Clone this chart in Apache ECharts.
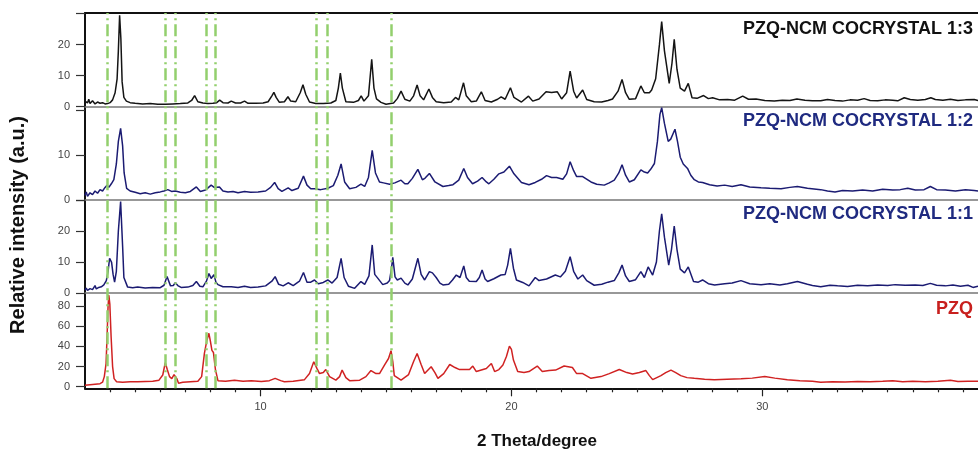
<!DOCTYPE html>
<html>
<head>
<meta charset="utf-8">
<script src="https://cdn.jsdelivr.net/npm/echarts@6/dist/echarts.min.js"></script>
<style>
  html, body { margin: 0; padding: 0; background: #fff; }
  #chart { width: 978px; height: 459px; }
</style>
</head>
<body>
<div id="chart"></div>
<script>
// XRD patterns, [2theta, intensity]
var xrd13 = [[3.0,1.8],[3.1,1.2],[3.15,2.4],[3.2,1.0],[3.3,1.9],[3.4,0.9],[3.5,1.5],[3.6,1.1],[3.7,1.3],[3.8,0.9],[3.9,1.0],[4.0,1.3],[4.1,2.2],[4.2,4.5],[4.28,9],[4.33,18],[4.38,29.5],[4.43,22],[4.48,8],[4.55,3],[4.65,1.8],[4.8,1.3],[5.0,1.1],[5.3,0.9],[5.6,1.0],[5.9,0.8],[6.2,0.8],[6.5,0.9],[6.8,1.0],[7.1,1.2],[7.25,2.0],[7.37,3.6],[7.5,1.6],[7.7,1.2],[7.9,1.0],[8.1,1.1],[8.25,1.3],[8.37,2.1],[8.5,1.3],[8.7,1.2],[8.83,1.8],[9.0,1.2],[9.2,1.2],[9.36,1.8],[9.5,1.1],[9.8,1.1],[10.1,1.2],[10.3,1.6],[10.45,3.5],[10.53,4.6],[10.62,3.0],[10.75,1.4],[10.95,1.6],[11.09,3.2],[11.2,1.8],[11.4,1.6],[11.58,4.5],[11.69,7.1],[11.8,4.0],[11.95,1.5],[12.2,1.0],[12.5,1.0],[12.8,1.2],[13.0,2.0],[13.1,6],[13.18,10.8],[13.26,6],[13.4,1.6],[13.7,1.4],[13.9,2.0],[14.01,3.5],[14.12,1.8],[14.3,3.5],[14.43,15.3],[14.52,6],[14.62,2.5],[14.8,1.4],[15.0,0.8],[15.3,1.2],[15.45,2.6],[15.6,5.0],[15.75,2.4],[15.95,1.8],[16.1,3.5],[16.24,7.0],[16.36,3.5],[16.5,2.2],[16.71,5.7],[16.85,3.0],[17.0,1.6],[17.3,1.3],[17.6,1.5],[17.77,3.0],[17.9,2.2],[18.09,7.7],[18.2,3.5],[18.4,1.6],[18.6,1.8],[18.8,4.8],[18.95,2.0],[19.2,1.5],[19.45,2.4],[19.59,3.2],[19.75,2.4],[19.96,6.1],[20.1,3.0],[20.4,1.5],[20.68,3.4],[20.85,1.8],[21.1,2.5],[21.38,4.8],[21.6,4.6],[21.83,4.8],[22.0,2.5],[22.2,4.5],[22.34,11.5],[22.48,5],[22.6,2.8],[22.84,5.4],[23.0,2.3],[23.3,1.6],[23.6,1.5],[23.85,2.0],[24.03,2.5],[24.25,5],[24.41,8.8],[24.55,4.5],[24.7,2.4],[24.95,2.6],[25.16,6.7],[25.3,4.5],[25.36,5],[25.5,4.5],[25.59,5.4],[25.75,9],[25.9,20],[25.99,27.4],[26.1,18],[26.29,7.5],[26.4,14],[26.49,21.7],[26.6,12],[26.73,6],[26.9,5],[27.05,7.5],[27.2,2.9],[27.4,2.7],[27.66,3.6],[27.85,2.6],[28.02,2.9],[28.3,2.2],[28.62,2.3],[28.9,2.1],[29.22,3.4],[29.45,2.4],[29.75,2.5],[30.1,2.0],[30.48,1.8],[30.8,2.1],[31.1,2.0],[31.38,2.5],[31.7,2.1],[32.0,1.9],[32.33,1.9],[32.6,2.3],[32.9,2.0],[33.2,1.8],[33.5,2.2],[33.8,2.1],[34.06,2.6],[34.3,2.0],[34.6,1.9],[34.9,2.2],[35.2,2.1],[35.4,1.9],[35.66,2.9],[35.9,2.3],[36.2,2.1],[36.5,2.3],[36.72,2.9],[36.9,2.3],[37.2,2.1],[37.5,2.4],[37.8,2.0],[38.1,2.2],[38.45,2.3],[38.6,2.0]];

var xrd12 = [[3.0,1.0],[3.05,1.8],[3.1,0.8],[3.2,1.6],[3.3,1.2],[3.4,2.0],[3.5,1.5],[3.6,2.3],[3.7,2.0],[3.8,2.8],[3.88,3.3],[3.95,2.8],[4.05,3.6],[4.15,4.5],[4.25,8],[4.33,13],[4.42,15.9],[4.5,12],[4.56,6],[4.66,2.6],[4.8,2.0],[5.0,1.7],[5.2,1.4],[5.4,1.6],[5.6,1.3],[5.8,1.6],[6.0,1.8],[6.15,2.0],[6.3,2.3],[6.45,1.9],[6.6,2.0],[6.8,1.7],[7.0,1.6],[7.2,1.9],[7.44,2.9],[7.6,1.9],[7.8,2.2],[8.03,3.3],[8.15,2.8],[8.36,2.9],[8.5,2.0],[8.7,1.8],[8.9,1.9],[9.1,1.6],[9.36,1.9],[9.6,1.7],[9.9,1.8],[10.2,2.0],[10.4,2.8],[10.56,3.9],[10.7,2.5],[10.85,1.9],[11.1,2.7],[11.25,2.1],[11.5,2.6],[11.71,5.3],[11.85,3.3],[12.0,2.5],[12.15,2.5],[12.4,2.3],[12.68,2.6],[12.9,3.2],[13.08,5.5],[13.21,8.0],[13.35,4.0],[13.55,2.5],[13.8,2.8],[14.0,3.5],[14.15,3.0],[14.3,5],[14.45,11],[14.58,6],[14.74,4.0],[14.9,3.8],[15.14,3.5],[15.35,3.8],[15.6,4.4],[15.75,3.6],[15.87,3.6],[16.05,4.8],[16.27,6.8],[16.45,4.5],[16.55,4.8],[16.73,5.9],[16.95,4.0],[17.27,3.0],[17.5,3.2],[17.67,3.4],[17.9,4.4],[18.1,7.0],[18.25,5.0],[18.45,3.6],[18.65,4.2],[18.83,5.0],[19.0,4.0],[19.1,3.6],[19.3,4.6],[19.5,5.8],[19.7,6.2],[19.92,7.5],[20.1,5.8],[20.4,3.9],[20.7,3.4],[20.95,3.9],[21.2,4.6],[21.4,5.4],[21.6,5.0],[21.8,5.0],[22.05,4.6],[22.2,5.8],[22.34,8.5],[22.48,6.5],[22.6,5.2],[22.84,5.2],[23.17,4.0],[23.4,3.5],[23.7,3.3],[23.9,3.8],[24.1,4.4],[24.28,6],[24.41,7.8],[24.55,5.5],[24.7,4.0],[24.9,4.5],[25.16,6.7],[25.3,6.2],[25.43,6.0],[25.55,6.8],[25.7,8.1],[25.82,13],[25.92,19],[25.99,20.5],[26.1,17],[26.25,13],[26.35,13.5],[26.52,15.7],[26.62,13],[26.73,9.5],[26.85,8],[27.02,7.0],[27.15,5.5],[27.29,4.5],[27.45,4.0],[27.62,3.9],[27.9,3.4],[28.2,3.1],[28.5,3.3],[28.8,3.0],[29.15,3.4],[29.5,2.9],[29.95,2.7],[30.3,2.6],[30.75,2.5],[31.1,2.8],[31.4,3.0],[31.8,2.6],[32.33,2.3],[32.6,2.0],[32.9,1.8],[33.2,2.1],[33.6,2.0],[34.0,2.2],[34.4,2.0],[34.8,2.4],[35.2,2.2],[35.5,2.3],[35.8,2.6],[36.1,2.2],[36.45,2.3],[36.7,3.0],[36.95,2.3],[37.3,2.2],[37.7,2.0],[38.1,2.3],[38.45,2.1],[38.6,2.0]];

var xrd11 = [[3.0,0.9],[3.05,1.6],[3.1,0.8],[3.2,1.4],[3.3,1.1],[3.4,2.4],[3.45,1.3],[3.55,1.8],[3.65,2.0],[3.75,2.6],[3.85,4.0],[3.92,7],[3.98,11.2],[4.06,9.9],[4.12,6],[4.18,3.5],[4.25,7],[4.33,20],[4.42,29.5],[4.5,15],[4.55,5.0],[4.7,1.9],[4.9,1.7],[5.1,1.9],[5.4,1.6],[5.7,1.8],[6.0,1.7],[6.15,2.5],[6.27,5.3],[6.41,2.3],[6.52,2.4],[6.6,3.3],[6.7,2.4],[6.83,1.8],[7.1,1.9],[7.3,2.4],[7.44,3.7],[7.58,2.2],[7.7,2.0],[7.84,3.8],[7.94,6.3],[8.03,4.7],[8.14,5.9],[8.22,3.5],[8.3,2.7],[8.5,2.0],[8.83,2.0],[9.1,1.8],[9.36,2.2],[9.6,1.8],[9.9,1.9],[10.2,2.3],[10.45,3.8],[10.58,5.3],[10.72,2.8],[10.9,2.3],[11.1,3.3],[11.3,2.4],[11.55,3.8],[11.71,6.6],[11.85,3.5],[12.0,3.5],[12.15,4.2],[12.3,3.0],[12.5,3.4],[12.68,4.2],[12.85,3.2],[13.05,5],[13.21,11.2],[13.33,5],[13.5,2.2],[13.75,1.5],[14.0,3.7],[14.15,2.8],[14.32,5.5],[14.45,15.5],[14.55,6],[14.67,4.8],[14.87,2.7],[15.05,3.2],[15.14,4.0],[15.22,8],[15.27,11.5],[15.36,5.2],[15.45,4.2],[15.6,4.8],[15.75,3.2],[15.87,2.6],[16.05,4.5],[16.27,11.2],[16.4,6],[16.54,4.2],[16.73,6.9],[16.85,6.5],[17.0,5.0],[17.15,3.2],[17.27,2.6],[17.5,2.8],[17.65,4.2],[17.8,5.8],[17.95,5.0],[18.1,8.7],[18.2,5.0],[18.32,3.8],[18.6,3.7],[18.72,5.0],[18.83,7.4],[18.95,4.5],[19.05,3.7],[19.3,4.6],[19.58,5.8],[19.75,6.0],[19.85,9],[19.96,14.4],[20.08,8],[20.2,4.2],[20.45,3.4],[20.7,2.3],[20.95,5.0],[21.1,4.0],[21.4,4.5],[21.75,5.8],[21.95,5.2],[22.15,7],[22.34,11.7],[22.48,7],[22.65,4.5],[22.84,5.8],[23.0,4.0],[23.3,2.5],[23.6,2.8],[23.85,3.5],[24.1,4.0],[24.28,6.5],[24.41,9.0],[24.55,5.5],[24.7,3.7],[24.95,4.3],[25.16,6.9],[25.3,5.0],[25.45,8.4],[25.63,5.8],[25.78,10],[25.9,20],[25.99,25.5],[26.1,18],[26.27,9.0],[26.38,14],[26.49,21.6],[26.6,14],[26.73,7.7],[26.9,6.5],[27.05,8.4],[27.26,3.7],[27.45,3.5],[27.62,4.2],[27.85,3.0],[28.1,2.6],[28.5,3.0],[28.8,3.2],[29.15,4.0],[29.5,3.0],[29.95,2.7],[30.3,3.0],[30.7,2.6],[31.0,3.0],[31.4,3.7],[31.8,2.8],[32.0,2.4],[32.33,2.0],[32.7,2.5],[33.0,2.3],[33.4,2.1],[33.8,2.5],[34.2,2.3],[34.6,2.6],[35.0,2.4],[35.3,2.7],[35.7,2.5],[36.1,2.6],[36.4,2.4],[36.7,3.1],[36.95,2.5],[37.3,2.3],[37.6,2.6],[37.9,2.2],[38.2,2.5],[38.4,1.8],[38.6,2.2]];

var pzq = [[3.0,1.5],[3.2,2.0],[3.4,2.5],[3.6,3.0],[3.7,4.5],[3.77,10],[3.84,23],[3.88,50],[3.92,80],[3.95,91],[3.99,82],[4.04,50],[4.1,20],[4.16,8],[4.26,5],[4.5,4.5],[4.8,5],[5.1,4.8],[5.4,5.2],[5.7,5.5],[5.95,6.5],[6.1,11.6],[6.2,23.8],[6.28,17],[6.37,10],[6.46,8],[6.55,12],[6.6,13.9],[6.66,8],[6.73,3.5],[6.9,4.5],[7.2,5],[7.5,5.5],[7.65,10],[7.76,33],[7.85,45],[7.94,53],[8.0,45],[8.06,36],[8.12,34],[8.2,17],[8.3,6],[8.6,5.5],[8.96,6.5],[9.3,5.5],[9.63,5.9],[10.03,5.2],[10.35,6],[10.58,8.3],[10.8,6],[10.95,5],[11.3,5.5],[11.75,7],[11.95,13],[12.12,24.8],[12.25,18],[12.35,13],[12.5,14],[12.6,17],[12.75,10],[13.0,6.5],[13.15,10],[13.25,16.5],[13.4,9],[13.55,6],[13.95,6.5],[14.2,10],[14.4,16],[14.6,13],[14.74,13],[14.95,22],[15.1,28],[15.2,35.7],[15.27,25],[15.33,11],[15.6,6.5],[15.9,12],[16.1,25],[16.24,33],[16.4,22],[16.54,13],[16.8,19.8],[16.95,14],[17.07,8.3],[17.3,13],[17.54,22],[17.75,19],[17.93,17],[18.33,17],[18.46,20.5],[18.6,15],[19.0,18],[19.2,23],[19.33,15],[19.5,17],[19.66,21.6],[19.8,30],[19.92,40.3],[20.0,37],[20.08,26.4],[20.25,15],[20.5,14],[20.7,15],[21.03,20.5],[21.23,15],[21.5,16],[21.76,16.5],[22.1,20.5],[22.43,19],[22.6,13],[22.84,13],[23.17,8.3],[23.57,10],[23.9,13],[24.3,17],[24.6,14],[24.83,12.5],[25.1,14],[25.36,16],[25.5,11],[25.63,7],[25.96,11],[26.15,14],[26.36,16.5],[26.55,14],[26.75,11],[27.0,9],[27.29,8.3],[27.7,7.5],[28.09,7],[28.6,7.5],[29.15,8],[29.6,8.5],[30.1,10],[30.5,8.5],[31.0,7],[31.5,6],[32.0,5.5],[32.33,4.5],[32.8,5],[33.3,4.6],[33.8,5.2],[34.3,4.8],[34.8,5.3],[35.2,6],[35.6,5.0],[36.0,5.4],[36.5,5.0],[37.0,5.5],[37.5,6.5],[37.8,5.2],[38.2,5.5],[38.6,5.3]];

// dash-dot reference positions (2theta)
var refLines = [3.9, 6.2, 6.6, 7.85, 8.2, 12.2, 12.65, 15.2];

var majorTicks = [10, 20, 30];
var minorTicks = [4,5,6,7,8,9,11,12,13,14,15,16,17,18,19,21,22,23,24,25,26,27,28,29,31,32,33,34,35,36,37,38];

var labels = ["PZQ-NCM COCRYSTAL 1:3", "PZQ-NCM COCRYSTAL 1:2", "PZQ-NCM COCRYSTAL 1:1", "PZQ"];

var FONT = "'Liberation Sans', Arial, sans-serif";
var xMin = 3, xMax = 38.6;

var myChart = echarts.init(document.getElementById("chart"));

function hiddenX(grid) {
  return {
    type: "value", gridIndex: grid, position: "bottom", min: xMin, max: xMax,
    axisLine: { show: true, onZero: false, lineStyle: { color: "#777", width: 1.5 } },
    axisTick: { show: false }, axisLabel: { show: false }, splitLine: { show: false }
  };
}

function yAx(grid, min, max, lbls, ticks) {
  return {
    type: "value", gridIndex: grid, min: min, max: max,
    axisLine: { show: true, lineStyle: { color: "#111", width: 2 } },
    axisTick: { show: true, length: 9, customValues: ticks, lineStyle: { color: "#333", width: 1.2 } },
    axisLabel: { show: true, customValues: lbls, margin: 15, color: "#444", fontSize: 11, fontFamily: FONT },
    splitLine: { show: false }
  };
}

function lineSeries(xi, yi, data, color) {
  return {
    type: "line", xAxisIndex: xi, yAxisIndex: yi, data: data,
    showSymbol: false, symbol: "none", clip: true,
    lineStyle: { color: color, width: 1.5 }, z: 2
  };
}

function panelTitle(text, top, color) {
  return {
    text: text, right: 5, top: top, padding: 0,
    textStyle: { fontSize: 18, fontWeight: "bold", color: color, fontFamily: FONT }
  };
}

var option = {
  backgroundColor: "#fff",
  animation: false,
  grid: [
    { left: 85, right: 0, top: 13, height: 93.7 },
    { left: 85, right: 0, top: 106.7, height: 93.3 },
    { left: 85, right: 0, top: 200, height: 93 },
    { left: 85, right: 0, top: 293, height: 95.3 },
    { left: 85, right: 0, top: 13, height: 375.3 }
  ],
  title: [
    panelTitle(labels[0], 20, "#111"),
    panelTitle(labels[1], 112, "#1f2a80"),
    panelTitle(labels[2], 205, "#1f2a80"),
    panelTitle(labels[3], 300, "#c8201e")
  ],
  xAxis: [
    hiddenX(0),
    {
      type: "value", gridIndex: 0, position: "top", min: xMin, max: xMax,
      axisLine: { show: true, onZero: false, lineStyle: { color: "#111", width: 2 } },
      axisTick: { show: false }, axisLabel: { show: false }, splitLine: { show: false }
    },
    hiddenX(1),
    hiddenX(2),
    {
      type: "value", gridIndex: 3, position: "bottom", min: xMin, max: xMax,
      axisLine: { show: true, onZero: false, lineStyle: { color: "#111", width: 2 } },
      axisTick: { show: true, length: 8, customValues: majorTicks, lineStyle: { color: "#222", width: 1.2 } },
      axisLabel: { show: true, customValues: majorTicks, margin: 13, color: "#444", fontSize: 11, fontFamily: FONT },
      splitLine: { show: false }
    },
    {
      type: "value", gridIndex: 3, position: "bottom", min: xMin, max: xMax,
      axisLine: { show: false, onZero: false },
      axisTick: { show: true, length: 4, customValues: minorTicks, lineStyle: { color: "#222", width: 1.2 } },
      axisLabel: { show: false }, splitLine: { show: false }
    },
    { type: "value", gridIndex: 4, min: xMin, max: xMax, show: false }
  ],
  yAxis: [
    yAx(0, 0, 30.2, [0, 10, 20], [0, 10, 20, 30]),
    yAx(1, 0, 20.7, [0, 10], [0, 10, 20]),
    yAx(2, 0, 30, [0, 10, 20], [0, 10, 20, 30]),
    yAx(3, -1.6, 93, [0, 20, 40, 60, 80], [0, 20, 40, 60, 80]),
    { type: "value", gridIndex: 4, min: 0, max: 1, show: false }
  ],
  graphic: [
    {
      type: "text", x: 18, y: 225, rotation: Math.PI / 2,
      style: { text: "Relative intensity (a.u.)", fill: "#111", font: "bold 20px " + FONT, align: "center", verticalAlign: "middle" }
    },
    {
      type: "text", x: 537, y: 441,
      style: { text: "2 Theta/degree", fill: "#111", font: "bold 17px " + FONT, align: "center", verticalAlign: "middle" }
    }
  ],
  series: [
    lineSeries(0, 0, xrd13, "#141414"),
    lineSeries(2, 1, xrd12, "#1b1b72"),
    lineSeries(3, 2, xrd11, "#1b1b72"),
    lineSeries(4, 3, pzq, "#d02222"),
    {
      type: "line", xAxisIndex: 6, yAxisIndex: 4, data: [[xMin, 0]],
      showSymbol: false, symbol: "none", lineStyle: { opacity: 0 }, z: 5,
      markLine: {
        silent: true, symbol: ["none", "none"], label: { show: false },
        lineStyle: { color: "#93cf6d", width: 2.5, type: [12, 4, 2, 4] },
        data: refLines.map(function (v) { return { xAxis: v }; })
      }
    }
  ]
};

myChart.setOption(option);
window.addEventListener("resize", function () {
  myChart.resize();
});
</script>
</body>
</html>
